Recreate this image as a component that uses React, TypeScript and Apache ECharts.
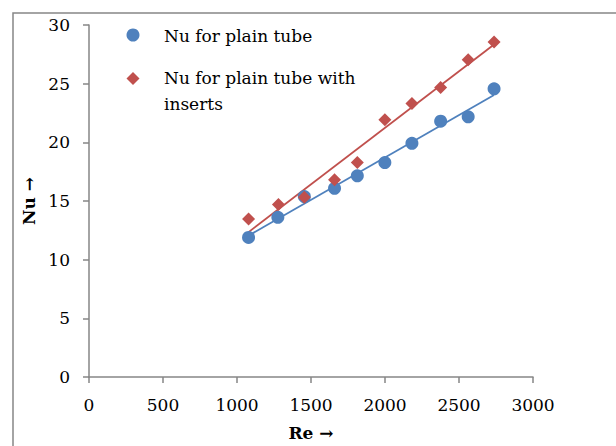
import React, { useEffect, useRef } from "react";
import * as echarts from "echarts";

const seriesNames = ["Nu for plain tube", "Nu for plain tube with inserts"];
const plainRe = [1078, 1276, 1455, 1659, 1813, 1999, 2182, 2376, 2562, 2737];
const plainNu = [11.89, 13.61, 15.38, 16.08, 17.15, 18.28, 19.92, 21.8, 22.17, 24.56];
const insertRe = [1078, 1280, 1455, 1659, 1813, 1999, 2182, 2376, 2562, 2737];
const insertNu = [13.46, 14.7, 15.32, 16.82, 18.28, 21.92, 23.3, 24.68, 27.04, 28.56];
const xTicks = [0, 500, 1000, 1500, 2000, 2500, 3000];
const yTicks = [0, 5, 10, 15, 20, 25, 30];

const BLUE = "#4F81BD";
const RED = "#C0504D";
const AXIS = "#868686";
const FONT = "DejaVu Serif";

function fitLine(xs: number[], ys: number[]): number[][] {
  const n = xs.length;
  const mx = xs.reduce((a, b) => a + b, 0) / n;
  const my = ys.reduce((a, b) => a + b, 0) / n;
  let sxy = 0;
  let sxx = 0;
  for (let i = 0; i < n; i++) {
    sxy += (xs[i] - mx) * (ys[i] - my);
    sxx += (xs[i] - mx) * (xs[i] - mx);
  }
  const k = sxy / sxx;
  const b = my - k * mx;
  const x0 = Math.min(...xs);
  const x1 = Math.max(...xs);
  return [
    [x0, k * x0 + b],
    [x1, k * x1 + b],
  ];
}

export default function App() {
  const ref = useRef<HTMLDivElement>(null);
  useEffect(() => {
    if (!ref.current) return;
    const chart = echarts.init(ref.current, null, { renderer: "svg" });
    chart.setOption({
      animation: false,
      backgroundColor: "#ffffff",
      grid: { left: 89, right: 83, top: 25, bottom: 60 },
      xAxis: {
        type: "value",
        min: xTicks[0],
        max: xTicks[xTicks.length - 1],
        interval: 500,
        name: "Re →",
        nameLocation: "middle",
        nameGap: 47,
        nameTextStyle: { fontFamily: FONT, fontSize: 17, fontWeight: "bold", color: "#000" },
        axisLine: { show: true, lineStyle: { color: AXIS, width: 1.5 } },
        axisTick: { show: true, inside: false, length: 6, lineStyle: { color: AXIS, width: 1.5 } },
        axisLabel: {
          margin: 19,
          fontFamily: FONT,
          fontSize: 17,
          color: "#000",
          formatter: (v: number) => String(v),
        },
        splitLine: { show: false },
      },
      yAxis: {
        type: "value",
        min: yTicks[0],
        max: yTicks[yTicks.length - 1],
        interval: 5,
        name: "Nu →",
        nameLocation: "middle",
        nameGap: 52,
        nameRotate: 90,
        nameTextStyle: { fontFamily: FONT, fontSize: 17, fontWeight: "bold", color: "#000" },
        axisLine: { show: true, lineStyle: { color: AXIS, width: 1.5 } },
        axisTick: { show: true, inside: false, length: 6, lineStyle: { color: AXIS, width: 1.5 } },
        axisLabel: {
          margin: 19,
          fontFamily: FONT,
          fontSize: 17,
          color: "#000",
          formatter: (v: number) => String(v),
        },
        splitLine: { show: false },
      },
      series: [
        {
          name: seriesNames[0],
          type: "scatter",
          symbol: "circle",
          symbolSize: 13,
          itemStyle: { color: BLUE, opacity: 1 },
          data: plainRe.map((x, i) => [x, plainNu[i]]),
          z: 3,
        },
        {
          name: seriesNames[1],
          type: "scatter",
          symbol: "diamond",
          symbolSize: 13,
          itemStyle: { color: RED, opacity: 1 },
          data: insertRe.map((x, i) => [x, insertNu[i]]),
          z: 3,
        },
        {
          name: "trend1",
          type: "line",
          showSymbol: false,
          symbol: "none",
          lineStyle: { color: BLUE, width: 1.8 },
          data: fitLine(plainRe, plainNu),
          z: 2,
        },
        {
          name: "trend2",
          type: "line",
          showSymbol: false,
          symbol: "none",
          lineStyle: { color: RED, width: 1.8 },
          data: fitLine(insertRe, insertNu),
          z: 2,
        },
      ],
      graphic: [
        {
          type: "rect",
          shape: { x: 13, y: 13, width: 700, height: 500 },
          style: { fill: "none", stroke: AXIS, lineWidth: 1.5 },
          silent: true,
        },
        {
          type: "circle",
          shape: { cx: 133, cy: 35, r: 6.5 },
          style: { fill: BLUE },
        },
        {
          type: "polygon",
          shape: { points: [[133, 72], [139.5, 78.5], [133, 85], [126.5, 78.5]] },
          style: { fill: RED },
        },
        {
          type: "text",
          x: 164,
          y: 36,
          style: {
            text: seriesNames[0],
            fontFamily: FONT,
            fontSize: 17,
            fill: "#000",
            verticalAlign: "middle",
          },
        },
        {
          type: "text",
          x: 164,
          y: 78,
          style: {
            text: "Nu for plain tube with",
            fontFamily: FONT,
            fontSize: 17,
            fill: "#000",
            verticalAlign: "middle",
          },
        },
        {
          type: "text",
          x: 164,
          y: 104,
          style: {
            text: "inserts",
            fontFamily: FONT,
            fontSize: 17,
            fill: "#000",
            verticalAlign: "middle",
          },
        },
      ],
    });
    return () => chart.dispose();
  }, []);
  return (
    <div
      ref={ref}
      style={{ position: "fixed", left: 0, top: 0, width: 616, height: 446 }}
    />
  );
}
